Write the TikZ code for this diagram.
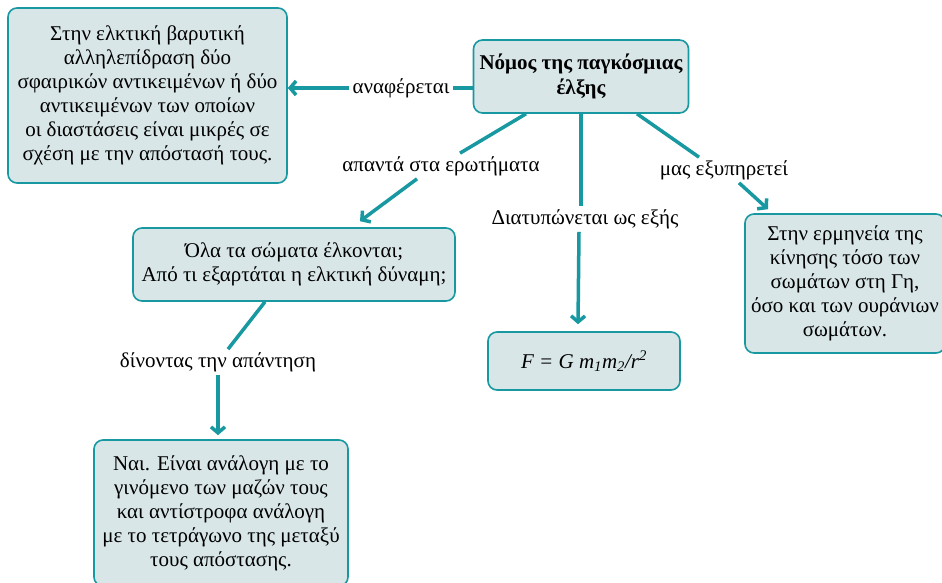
\documentclass[tikz,border=0pt]{standalone}
\usepackage{fontspec}
\setmainfont{Liberation Serif}
\usetikzlibrary{arrows.meta,positioning,calc}
\definecolor{cTeal}{RGB}{24,152,160}
\definecolor{cFill}{RGB}{216,230,232}

\begin{document}
\begin{tikzpicture}[x=1pt,y=-1pt,font=\fontsize{21}{24}\selectfont,
  box/.style={draw=cTeal,fill=cFill,line width=1.6pt,rounded corners=9pt,align=center,inner sep=2pt},
  lab/.style={inner sep=3pt},
  link/.style={draw=cTeal,line width=3.5pt},
  arr/.style={link,-{Straight Barb[length=6pt,width=14pt]}}]
  \useasboundingbox (0,0) rectangle (942,583);
  % boxes
  \node[box,minimum width=215pt,minimum height=73pt,font=\fontsize{21}{25}\selectfont\bfseries] (law) at (581,76.5)
       {Νόμος της παγκόσμιας\\έλξης};
  \node[box,minimum width=279pt,minimum height=175pt] (scope) at (147.5,95.5)
       {Στην ελκτική βαρυτική\\αλληλεπίδραση δύο\\σφαιρικών αντικειμένων ή δύο\\αντικειμένων των οποίων\\οι διαστάσεις είναι μικρές σε\\σχέση με την απόστασή τους.};
  \node[box,minimum width=322pt,minimum height=73pt] (quest) at (294,264.5)
       {Όλα τα σώματα έλκονται;\\Από τι εξαρτάται η ελκτική δύναμη;};
  \node[box,minimum width=254pt,minimum height=146pt] (answer) at (221,513)
       {Ναι. Είναι ανάλογη με το\\γινόμενο των μαζών τους\\και αντίστροφα ανάλογη\\με το τετράγωνο της μεταξύ\\τους απόστασης.};
  \node[box,minimum width=192pt,minimum height=58pt] (formula) at (584,361)
       {\itshape F = G m\textsubscript{1}m\textsubscript{2}/r\textsuperscript{2}};
  \node[box,minimum width=200pt,minimum height=139pt] (use) at (845,283.5)
       {Στην ερμηνεία της\\κίνησης τόσο των\\σωμάτων στη Γη,\\όσο και των ουράνιων\\σωμάτων.};
  % link labels
  \node[lab] (refers) at (401,88) {αναφέρεται};
  \node[lab] (answers) at (441,166) {απαντά στα ερωτήματα};
  \node[lab] (states) at (585,219) {Διατυπώνεται ως εξής};
  \node[lab] (serves) at (724,170) {μας εξυπηρετεί};
  \node[lab] (giving) at (218,362) {δίνοντας την απάντηση};
  % connectors
  \draw[link] (law.west |- refers.east) -- (refers.east);
  \draw[arr] (refers.west) -- (scope.east |- refers.west);
  \draw[link] ([xshift=-55pt]law.south) -- ([xshift=19pt]answers.north);
  \draw[arr] ([xshift=-24pt]answers.south) -- ([xshift=66pt,yshift=6pt]quest.north);
  \draw[link] (law.south) -- (law.south |- states.north);
  \draw[arr] ([xshift=-6pt]states.south) -- ([xshift=-6pt,yshift=7pt]formula.north);
  \draw[link] ([xshift=56pt]law.south) -- ([xshift=-25pt]serves.north);
  \draw[arr] ([xshift=15pt]serves.south) -- ([xshift=-77pt,yshift=4pt]use.north);
  \draw[link] ([xshift=-29pt]quest.south) -- ([xshift=10pt]giving.north);
  \draw[arr] (giving.south) -- ([yshift=4pt]giving.south |- answer.north);
\end{tikzpicture}
\end{document}
